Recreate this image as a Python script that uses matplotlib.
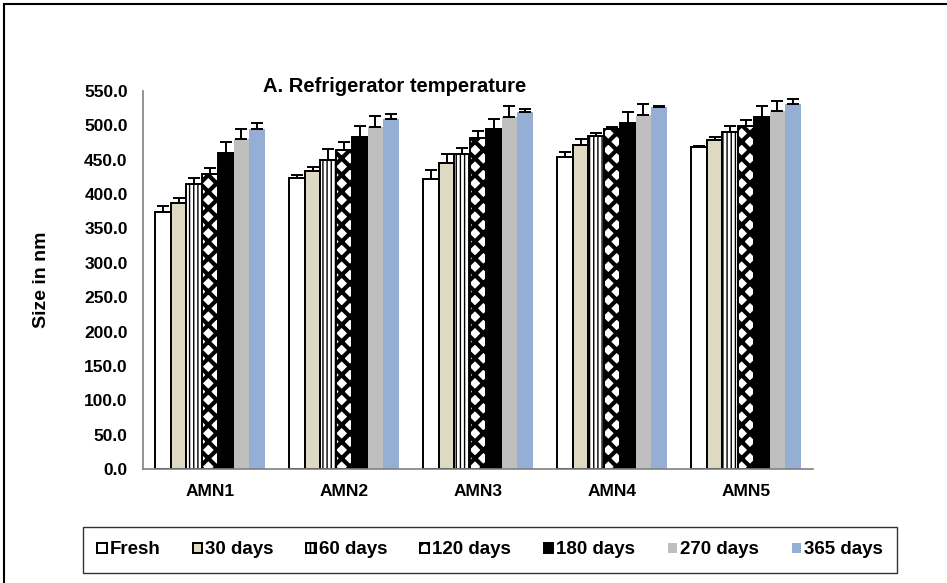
import matplotlib
matplotlib.use("Agg")
import matplotlib.pyplot as plt
from matplotlib.patches import Rectangle
import numpy as np

plt.rcParams['font.family'] = ['Liberation Sans', 'DejaVu Sans']
plt.rcParams['hatch.linewidth'] = 1.2

categories = ["AMN1", "AMN2", "AMN3", "AMN4", "AMN5"]
series = ["Fresh", "30 days", "60 days", "120 days", "180 days", "270 days", "365 days"]
fresh = [373.5, 423.0, 422.0, 454.0, 468.0]
d30 = [386.5, 433.0, 445.0, 472.0, 479.0]
d60 = [414.5, 449.5, 458.0, 484.0, 491.0]
d120 = [429.0, 464.0, 481.0, 494.0, 499.5]
d180 = [460.0, 483.5, 494.0, 504.0, 512.5]
d270 = [480.0, 498.0, 512.5, 515.0, 521.0]
d365 = [494.0, 509.0, 520.0, 526.0, 531.0]
e_fresh = [9.5, 5.0, 13.0, 7.5, 2.5]
e30 = [8.0, 7.0, 14.0, 8.5, 4.0]
e60 = [8.5, 16.0, 8.5, 5.0, 8.5]
e120 = [9.0, 12.0, 11.0, 4.0, 8.0]
e180 = [16.0, 16.0, 15.0, 15.0, 15.0]
e270 = [15.0, 16.0, 16.0, 16.0, 15.0]
e365 = [9.0, 7.0, 4.0, 2.0, 7.0]

values = [fresh, d30, d60, d120, d180, d270, d365]
errors = [e_fresh, e30, e60, e120, e180, e270, e365]

styles = [
    dict(facecolor="white", edgecolor="black", hatch=None, lw=1.4, hlw=1.2),
    dict(facecolor="#DDD9C3", edgecolor="black", hatch=None, lw=1.4, hlw=1.2),
    dict(facecolor="white", edgecolor="black", hatch="||||", lw=1.4, hlw=1.0),
    dict(facecolor="white", edgecolor="black", hatch="xx", lw=1.4, hlw=3.0),
    dict(facecolor="black", edgecolor="black", hatch=None, lw=1.4, hlw=1.2),
    dict(facecolor="#BFBFBF", edgecolor="#BFBFBF", hatch=None, lw=0, hlw=1.2),
    dict(facecolor="#95AED3", edgecolor="#95AED3", hatch=None, lw=0, hlw=1.2),
]

fig = plt.figure(figsize=(9.47, 5.83), dpi=100)
ax = fig.add_axes([143/947, 1-469/583, 670/947, 378/583])

x = np.arange(len(categories))
n = len(series)
bw = 0.82 / n
handles = []
for i, (vals, errs, st) in enumerate(zip(values, errors, styles)):
    pos = x - 0.41 + bw * (i + 0.5)
    with plt.rc_context({'hatch.linewidth': st["hlw"]}):
        b = ax.bar(pos, vals, width=bw, facecolor=st["facecolor"], edgecolor=st["edgecolor"],
                   hatch=st["hatch"], linewidth=st["lw"], label=series[i], zorder=2)
    for p in b.patches:
        if hasattr(p, "set_hatch_linewidth"):
            p.set_hatch_linewidth(st["hlw"])
    ax.errorbar(pos, vals, yerr=[np.zeros(len(vals)), errs], fmt="none",
                ecolor="black", elinewidth=1.4, capsize=4.5, capthick=1.4, zorder=3)
    handles.append(b)

ax.set_xlim(-0.5, len(categories) - 0.5)
ax.set_ylim(0, 550)
ax.set_yticks(np.arange(0, 551, 50))
ax.set_yticklabels([f"{v:.1f}" for v in np.arange(0, 551, 50)], fontsize=12.5, fontweight="bold")
ax.set_xticks(x)
ax.set_xticklabels(categories, fontsize=12.5, fontweight="bold")
ax.tick_params(axis="both", length=0)
ax.tick_params(axis="y", pad=11)
ax.tick_params(axis="x", pad=11)
for s in ["top", "right"]:
    ax.spines[s].set_visible(False)
for s in ["left", "bottom"]:
    ax.spines[s].set_color("#808080")
    ax.spines[s].set_linewidth(1.2)

fig.text(42/947, 1-280/583, "Size in nm", rotation=90, ha="center", va="center",
         fontsize=14, fontweight="bold")
fig.text(395/947, 1-86/583, "A. Refrigerator temperature", ha="center", va="center",
         fontsize=14.5, fontweight="bold")

leg = fig.legend(handles=handles, labels=series, loc="center", bbox_to_anchor=(490/947, 1-550/583),
                 ncol=7, frameon=True, fancybox=False, handlelength=0.5,
                 handleheight=0.5, handletextpad=0.15, columnspacing=1.75, borderpad=0.75,
                 borderaxespad=0.0,
                 prop={"weight": "bold", "size": 13.5})
leg.get_frame().set_edgecolor("black")
leg.get_frame().set_linewidth(1.0)

fig.patches.append(Rectangle((4/947, -0.05), 1.1, 1 - 4/583 + 0.05, transform=fig.transFigure,
                             fill=False, edgecolor="black", linewidth=1.5))

fig.savefig("out.png", dpi=100)
